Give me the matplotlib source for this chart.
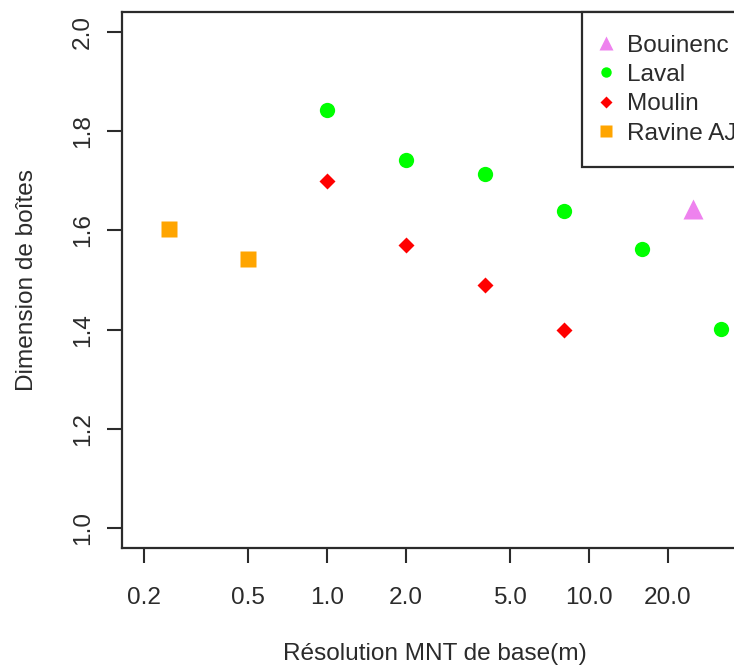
import matplotlib
matplotlib.use('Agg')
import matplotlib.pyplot as plt
from matplotlib.lines import Line2D

plt.rcParams['font.family'] = ['Liberation Sans', 'DejaVu Sans']

# data
bouinenc_x = [25]
bouinenc_y = [1.644]
laval_x = [1, 2, 4, 8, 16, 32]
laval_y = [1.843, 1.742, 1.714, 1.640, 1.563, 1.402]
moulin_x = [1, 2, 4, 8]
moulin_y = [1.700, 1.571, 1.489, 1.400]
ravine_x = [0.25, 0.5]
ravine_y = [1.602, 1.543]

x_ticks = [0.2, 0.5, 1, 2, 5, 10, 20]
x_labels = ["0.2", "0.5", "1.0", "2.0", "5.0", "10.0", "20.0"]
y_ticks = [1.0, 1.2, 1.4, 1.6, 1.8, 2.0]
y_labels = ["1.0", "1.2", "1.4", "1.6", "1.8", "2.0"]

dark = '#2b2b2b'
fs = 17.6

fig = plt.figure(figsize=(7.34, 6.66), dpi=100)
# axes run past the right edge of the figure, as in the original (cropped) image
ax = fig.add_axes([122 / 734, 118 / 666, 626 / 734, 536 / 666])

ax.plot(laval_x, laval_y, 'o', color='#00ff00', ms=11, mec='none')
ax.plot(moulin_x, moulin_y, 'D', color='#ff0000', ms=8.2, mec='none')
ax.plot(ravine_x, ravine_y, 's', color='#ffa500', ms=11, mec='none')
ax.plot(bouinenc_x, bouinenc_y, '^', color='#ee82ee', ms=14, mec='none')

ax.set_xscale('log')
ax.set_xlim(0.165, 40.5)
ax.set_ylim(0.96, 2.04)

ax.set_xticks(x_ticks)
ax.set_xticklabels(x_labels)
ax.set_yticks(y_ticks)
ax.set_yticklabels(y_labels, rotation=90, va='center')
ax.minorticks_off()
ax.tick_params(axis='both', length=10.5, width=1.5, color=dark, labelcolor=dark, labelsize=fs)
ax.tick_params(axis='x', pad=17.5)
ax.tick_params(axis='y', pad=9.5)

for s in ax.spines.values():
    s.set_linewidth(1.6)
    s.set_color(dark)

ax.set_xlabel("Résolution MNT de base(m)", fontsize=fs, color=dark)
ax.set_ylabel("Dimension de boîtes", fontsize=fs, color=dark)
ax.xaxis.label.set_va('center')
ax.yaxis.label.set_va('center')
ax.xaxis.set_label_coords(0.5, -106 / 536)
ax.yaxis.set_label_coords(-95 / 626, 0.5)

handles = [
    Line2D([], [], ls='none', marker='^', color='#ee82ee', ms=10, mec='none'),
    Line2D([], [], ls='none', marker='o', color='#00ff00', ms=7.5, mec='none'),
    Line2D([], [], ls='none', marker='D', color='#ff0000', ms=6, mec='none'),
    Line2D([], [], ls='none', marker='s', color='#ffa500', ms=8, mec='none'),
]
names = ["Bouinenc", "Laval", "Moulin", "Ravine AJ"]
leg = ax.legend(handles, names, loc='upper left', bbox_to_anchor=((582 - 122) / 626, 1.0),
                fontsize=fs, frameon=True, fancybox=False, framealpha=1,
                borderpad=0.92, handlelength=0.1, handletextpad=0.82,
                labelspacing=0.3, borderaxespad=0)
for t in leg.get_texts():
    t.set_color(dark)
leg.get_frame().set_edgecolor(dark)
leg.get_frame().set_linewidth(1.6)

fig.savefig('out.png', dpi=100)
